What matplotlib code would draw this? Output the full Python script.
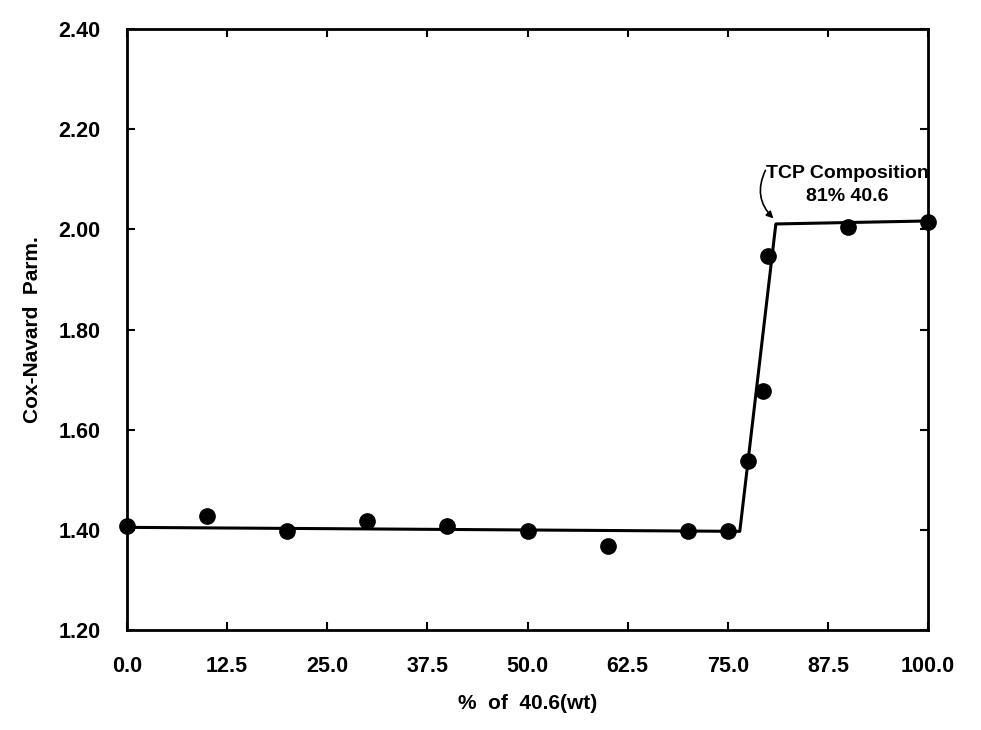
import matplotlib
matplotlib.use('Agg')
import matplotlib.pyplot as plt

# measured points
pct = [0, 10, 20, 30, 40, 50, 60, 70, 75, 77.5, 79.4, 80, 90, 100]
cn = [1.408, 1.428, 1.398, 1.418, 1.408, 1.398, 1.368, 1.398, 1.398, 1.537, 1.677, 1.947, 2.005, 2.015]

# fitted line
fit_x = [0, 76.5, 81.0, 100]
fit_y = [1.405, 1.397, 2.011, 2.017]

xticks = [0, 12.5, 25, 37.5, 50, 62.5, 75, 87.5, 100]
yticks = [1.2, 1.4, 1.6, 1.8, 2.0, 2.2, 2.4]

plt.rcParams['font.family'] = ['Liberation Sans', 'DejaVu Sans']

fig = plt.figure(figsize=(9.81, 7.3), dpi=100)
ax = fig.add_axes([0.1295, 0.137, 0.8165, 0.823])

ax.plot(fit_x, fit_y, color='black', linewidth=2.2, zorder=2, clip_on=False)
ax.plot(pct, cn, 'o', color='black', markersize=11, zorder=3, clip_on=False)

ax.set_xlim(0, 100)
ax.set_ylim(1.2, 2.4)
ax.set_xticks(xticks)
ax.set_xticklabels(['%.1f' % v for v in xticks])
ax.set_yticks(yticks)
ax.set_yticklabels(['%.2f' % v for v in yticks])
ax.tick_params(direction='in', length=6, width=1.5, top=True, right=True,
               labelsize=15.5, pad=19)
for lab in ax.get_xticklabels() + ax.get_yticklabels():
    lab.set_fontweight('bold')
for s in ax.spines.values():
    s.set_linewidth(2)

ax.set_xlabel('%  of  40.6(wt)', fontsize=15, fontweight='bold', labelpad=12)
ax.set_ylabel('Cox-Navard  Parm.', fontsize=15, fontweight='bold', labelpad=12)

ax.text(89.9, 2.089, 'TCP Composition\n81% 40.6', ha='center', va='center',
        fontsize=14, fontweight='bold', linespacing=1.5)
ax.annotate('', xy=(80.7, 2.022), xytext=(79.7, 2.118),
            arrowprops=dict(arrowstyle='-|>', color='black', lw=1.2,
                            shrinkA=0, shrinkB=0,
                            connectionstyle='arc3,rad=0.35'))

fig.savefig('out.png', dpi=100)
